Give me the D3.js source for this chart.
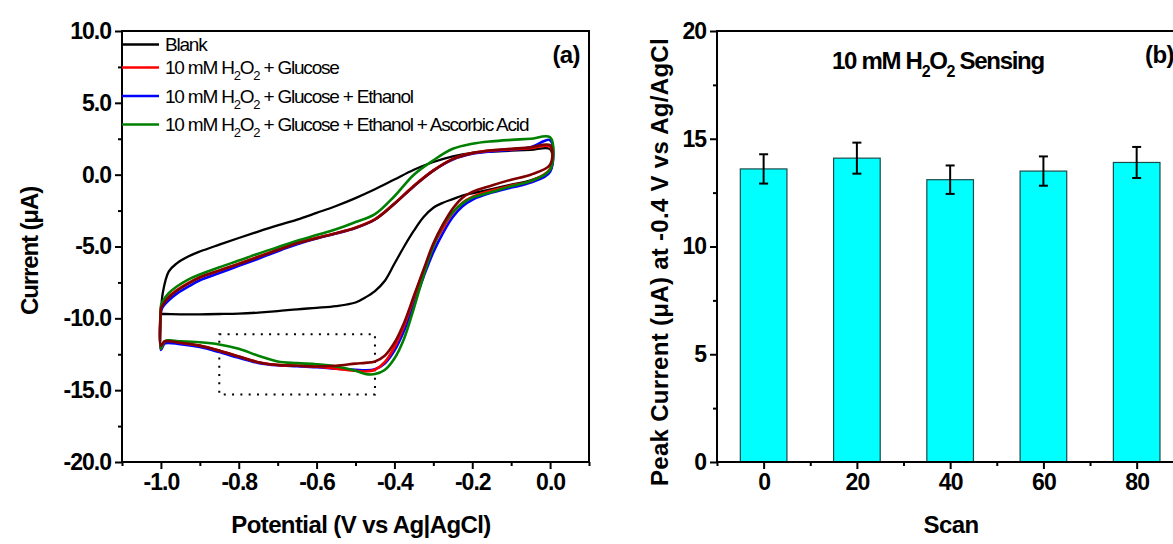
<!DOCTYPE html>
<html lang="en">
<head>
<meta charset="UTF-8">
<title>CV curves and peak current stability</title>
<script src="https://cdn.jsdelivr.net/npm/d3@7"></script>
<style>
    body {
        margin: 0;
        background-color: #fff;
    }
    svg text {
        font-family: "Liberation Sans", Arial, sans-serif;
        fill: #000;
    }
    .tick text {
        font-size: 23px;
        font-weight: bold;
        letter-spacing: -1px;
    }
    .title {
        font-size: 24px;
        font-weight: bold;
        letter-spacing: -0.6px;
    }
    .legend text {
        font-size: 19px;
        letter-spacing: -1.2px;
    }
</style>
</head>
<body>
<svg id="chart" width="1173" height="544"></svg>
<script>
    // ---- panel (a): cyclic voltammograms ----
    const potentialFwd = [-1.0, -0.995, -0.98, -0.96, -0.93, -0.9, -0.85, -0.8, -0.75, -0.7, -0.65, -0.6,
        -0.55, -0.5, -0.45, -0.4, -0.35, -0.3, -0.25, -0.2, -0.15, -0.1, -0.05, 0.0];
    const potentialRev = [0.0, -0.05, -0.1, -0.15, -0.2, -0.225, -0.25, -0.275, -0.3, -0.325, -0.35, -0.375,
        -0.4, -0.425, -0.45, -0.475, -0.5, -0.55, -0.6, -0.65, -0.7, -0.75, -0.8, -0.85, -0.9, -0.95, -0.99, -1.0];

    const blankFwd = [-9.7, -8.2, -6.75, -6.19, -5.7, -5.35, -4.87, -4.41, -3.96, -3.53, -3.13, -2.66,
        -2.18, -1.63, -1.02, -0.34, 0.34, 0.88, 1.28, 1.52, 1.6, 1.67, 1.72, 1.77];
    const blankRev = [0.3, -0.4, -0.7, -1.0, -1.3, -1.45, -1.7, -1.95, -2.3, -2.95, -3.9, -5.0,
        -6.2, -7.4, -8.1, -8.55, -8.9, -9.15, -9.27, -9.37, -9.5, -9.6, -9.67, -9.7, -9.72, -9.72, -9.7, -9.7];

    const glucoseFwd = [-9.25, -9.0, -8.5, -8.05, -7.55, -7.14, -6.67, -6.2, -5.71, -5.23, -4.76, -4.4,
        -4.07, -3.69, -3.1, -2.0, -0.77, 0.3, 1.1, 1.5, 1.68, 1.76, 1.85, 1.95];
    const glucoseRev = [0.4, -0.45, -0.75, -1.1, -1.55, -1.95, -2.65, -3.7, -4.95, -6.7, -8.55, -10.5,
        -12.0, -13.05, -13.58, -13.7, -13.65, -13.5, -13.37, -13.3, -13.24, -13.05, -12.65, -12.25, -11.91, -11.7, -11.6, -12.1];

    const ethanolFwd = [-9.5, -9.2, -8.75, -8.3, -7.8, -7.35, -6.85, -6.35, -5.85, -5.33, -4.85, -4.45,
        -4.1, -3.72, -3.12, -2.02, -0.8, 0.28, 1.05, 1.45, 1.62, 1.72, 1.9, 2.4];
    const ethanolRev = [0.2, -0.55, -0.9, -1.25, -1.75, -2.2, -2.95, -4.05, -5.4, -7.1, -9.0, -10.85,
        -12.25, -13.15, -13.55, -13.62, -13.58, -13.5, -13.4, -13.33, -13.27, -13.1, -12.75, -12.35, -12.0, -11.8, -11.75, -12.2];

    const ascorbicFwd = [-9.1, -8.8, -8.25, -7.8, -7.3, -6.95, -6.45, -5.98, -5.5, -5.05, -4.6, -4.2,
        -3.8, -3.3, -2.75, -1.5, 0.0, 1.0, 1.8, 2.15, 2.32, 2.42, 2.5, 2.6];
    const ascorbicRev = [0.35, -0.45, -0.8, -1.2, -1.6, -2.0, -2.6, -3.5, -5.0, -7.0, -9.3, -11.4,
        -12.8, -13.6, -13.88, -13.87, -13.65, -13.35, -13.2, -13.12, -13.0, -12.6, -12.12, -11.82, -11.67, -11.6, -11.58, -12.1];

    const extraFwd = [-9.3, -9.05, -8.55, -8.1, -7.58, -7.16, -6.68, -6.22, -5.73, -5.25, -4.78, -4.42,
        -4.08, -3.7, -3.12, -2.03, -0.8, 0.28, 1.08, 1.5, 1.7, 1.8, 1.9, 2.05];
    const extraRev = [0.7, 0.0, -0.35, -0.75, -1.2, -1.6, -2.35, -3.45, -4.8, -6.6, -8.45, -10.3,
        -11.7, -12.6, -13.0, -13.1, -13.15, -13.3, -13.35, -13.3, -13.25, -13.05, -12.65, -12.25, -11.9, -11.7, -11.6, -11.9];

    const legendLabels = ["Blank", "10 mM H2O2 + Glucose", "10 mM H2O2 + Glucose + Ethanol",
        "10 mM H2O2 + Glucose + Ethanol + Ascorbic Acid"];
    const seriesColors = ["#000000", "#ff0000", "#0000ff", "#008000", "#800000"];

    const cvTicksX = [-1.0, -0.8, -0.6, -0.4, -0.2, 0.0];
    const cvMinorX = [-1.1, -0.9, -0.7, -0.5, -0.3, -0.1, 0.1];
    const cvTicksY = [10, 5, 0, -5, -10, -15, -20];
    const cvMinorY = [7.5, 2.5, -2.5, -7.5, -12.5, -17.5];

    const boxPotential = [-0.85, -0.45];
    const boxCurrent = [-15.3, -11.1];

    // ---- panel (b): peak current vs scan ----
    const scanNumbers = [0, 20, 40, 60, 80];
    const peakCurrent = [13.6, 14.1, 13.1, 13.5, 13.9];
    const peakError = [0.68, 0.72, 0.66, 0.68, 0.72];
    const barTicksY = [0, 5, 10, 15, 20];
    const barMinorY = [2.5, 7.5, 12.5, 17.5];
    const barMinorX = [-10, 10, 30, 50, 70, 90];

    const svg = d3.select("#chart");

    // writes "H2O2" with lowered, smaller 2s
    function richText(sel, str, subSize, drop) {
        let shift = 0;
        const add = (txt, sub) => {
            const want = sub ? drop : 0;
            const ts = sel.append("tspan").text(txt);
            if (want !== shift) ts.attr("dy", want - shift);
            if (sub) ts.attr("font-size", subSize);
            shift = want;
        };
        str.split(/(H2O2)/).forEach(p => {
            if (p === "H2O2") {
                add("H", false);
                add("2", true);
                add("O", false);
                add("2", true);
            } else if (p.length) {
                add(p, false);
            }
        });
    }

    function styleAxis(g) {
        g.select(".domain").remove();
        g.selectAll(".tick line").attr("stroke", "#000").attr("stroke-width", 2);
    }

    // panel a scales
    const xa = d3.scaleLinear().domain([-1.1, 0.1]).range([122, 589]);
    const ya = d3.scaleLinear().domain([-20, 10]).range([462, 31]);

    const ga = svg.append("g");

    ga.append("g").attr("transform", "translate(0,462)")
        .call(d3.axisBottom(xa).tickValues(cvTicksX).tickSize(7).tickPadding(5).tickFormat(d => d.toFixed(1)))
        .call(styleAxis);
    ga.append("g").attr("transform", "translate(0,462)")
        .call(d3.axisBottom(xa).tickValues(cvMinorX).tickSize(4).tickFormat(""))
        .call(styleAxis);
    ga.append("g").attr("transform", "translate(122,0)")
        .call(d3.axisLeft(ya).tickValues(cvTicksY).tickSize(7).tickPadding(4).tickFormat(d => d.toFixed(1)))
        .call(styleAxis);
    ga.append("g").attr("transform", "translate(122,0)")
        .call(d3.axisLeft(ya).tickValues(cvMinorY).tickSize(4).tickFormat(""))
        .call(styleAxis);

    ga.append("rect")
        .attr("x", xa(-1.1)).attr("y", ya(10))
        .attr("width", xa(0.1) - xa(-1.1)).attr("height", ya(-20) - ya(10))
        .attr("fill", "none").attr("stroke", "#000").attr("stroke-width", 2);

    // dotted zoom box
    ga.append("rect")
        .attr("x", xa(boxPotential[0])).attr("y", ya(boxCurrent[1]))
        .attr("width", xa(boxPotential[1]) - xa(boxPotential[0]))
        .attr("height", ya(boxCurrent[0]) - ya(boxCurrent[1]))
        .attr("fill", "none").attr("stroke", "#000").attr("stroke-width", 2)
        .attr("stroke-dasharray", "2 6.3");

    const cvData = [
        [blankFwd, blankRev],
        [ethanolFwd, ethanolRev],
        [glucoseFwd, glucoseRev],
        [ascorbicFwd, ascorbicRev],
        [extraFwd, extraRev]
    ];
    const drawColors = [seriesColors[0], seriesColors[2], seriesColors[1], seriesColors[3], seriesColors[4]];

    const line = d3.line()
        .x(d => xa(d[0]))
        .y(d => ya(d[1]))
        .curve(d3.curveCatmullRom.alpha(0.5));

    cvData.forEach((s, k) => {
        const pts = potentialFwd.map((v, i) => [v, s[0][i]])
            .concat(potentialRev.map((v, i) => [v, s[1][i]]));
        pts.push(pts[0]);
        ga.append("path")
            .attr("d", line(pts))
            .attr("fill", "none")
            .attr("stroke", drawColors[k])
            .attr("stroke-width", k === 0 ? 2.3 : 2.6)
            .attr("stroke-linejoin", "round");
    });

    // legend
    const legendY = [51, 74, 102.5, 131];
    const lg = ga.append("g").attr("class", "legend");
    legendLabels.forEach((lab, i) => {
        lg.append("line")
            .attr("x1", 122).attr("x2", 159)
            .attr("y1", legendY[i] - 6.5).attr("y2", legendY[i] - 6.5)
            .attr("stroke", seriesColors[i]).attr("stroke-width", 2.6);
        const t = lg.append("text").attr("x", 165).attr("y", legendY[i]);
        richText(t, lab, 13, 6);
    });

    ga.append("text").attr("class", "title")
        .attr("x", 580).attr("y", 63).attr("text-anchor", "end").text("(a)");

    ga.append("text").attr("class", "title")
        .attr("x", 361).attr("y", 533).attr("text-anchor", "middle")
        .text("Potential (V vs Ag|AgCl)");

    ga.append("text").attr("class", "title")
        .attr("transform", "translate(38,251) rotate(-90)")
        .attr("text-anchor", "middle")
        .style("letter-spacing", "-1.1px")
        .text("Current (\u03bcA)");

    // panel b scales
    const xb = d3.scaleLinear().domain([-10, 90]).range([717, 1183.3]);
    const yb = d3.scaleLinear().domain([0, 20]).range([462, 31]);

    const gb = svg.append("g");

    const bw = xb(5) - xb(-5);
    gb.selectAll("rect.bar")
        .data(scanNumbers)
        .enter()
        .append("rect")
        .attr("class", "bar")
        .attr("x", d => xb(d) - bw / 2)
        .attr("y", (d, i) => yb(peakCurrent[i]))
        .attr("width", bw)
        .attr("height", (d, i) => yb(0) - yb(peakCurrent[i]))
        .attr("fill", "#00ffff")
        .attr("stroke", "#1e4a4a")
        .attr("stroke-width", 1.2);

    scanNumbers.forEach((d, i) => {
        const cx = xb(d);
        const top = yb(peakCurrent[i] + peakError[i]);
        const bot = yb(peakCurrent[i] - peakError[i]);
        const eg = gb.append("g").attr("stroke", "#000").attr("stroke-width", 2);
        eg.append("line").attr("x1", cx).attr("x2", cx).attr("y1", top).attr("y2", bot);
        eg.append("line").attr("x1", cx - 4.5).attr("x2", cx + 4.5).attr("y1", top).attr("y2", top);
        eg.append("line").attr("x1", cx - 4.5).attr("x2", cx + 4.5).attr("y1", bot).attr("y2", bot);
    });

    gb.append("g").attr("transform", "translate(0,462)")
        .call(d3.axisBottom(xb).tickValues(scanNumbers).tickSize(7).tickPadding(5).tickFormat(d3.format("d")))
        .call(styleAxis);
    gb.append("g").attr("transform", "translate(0,462)")
        .call(d3.axisBottom(xb).tickValues(barMinorX).tickSize(4).tickFormat(""))
        .call(styleAxis);
    gb.append("g").attr("transform", "translate(717,0)")
        .call(d3.axisLeft(yb).tickValues(barTicksY).tickSize(7).tickPadding(4).tickFormat(d3.format("d")))
        .call(styleAxis);
    gb.append("g").attr("transform", "translate(717,0)")
        .call(d3.axisLeft(yb).tickValues(barMinorY).tickSize(4).tickFormat(""))
        .call(styleAxis);

    gb.append("rect")
        .attr("x", xb(-10)).attr("y", yb(20))
        .attr("width", xb(90) - xb(-10)).attr("height", yb(0) - yb(20))
        .attr("fill", "none").attr("stroke", "#000").attr("stroke-width", 2);

    const sensing = gb.append("text").attr("class", "title")
        .attr("x", 832).attr("y", 69)
        .style("letter-spacing", "-1.3px");
    richText(sensing, "10 mM H2O2 Sensing", 16, 8);

    gb.append("text").attr("class", "title")
        .attr("x", 1145).attr("y", 63).text("(b)");

    gb.append("text").attr("class", "title")
        .attr("x", 951).attr("y", 533).attr("text-anchor", "middle").text("Scan");

    gb.append("text").attr("class", "title")
        .attr("transform", "translate(668,262) rotate(-90)")
        .attr("text-anchor", "middle")
        .style("letter-spacing", "0.3px")
        .text("Peak Current (\u03bcA) at -0.4 V vs Ag/AgCl");
</script>
</body>
</html>
